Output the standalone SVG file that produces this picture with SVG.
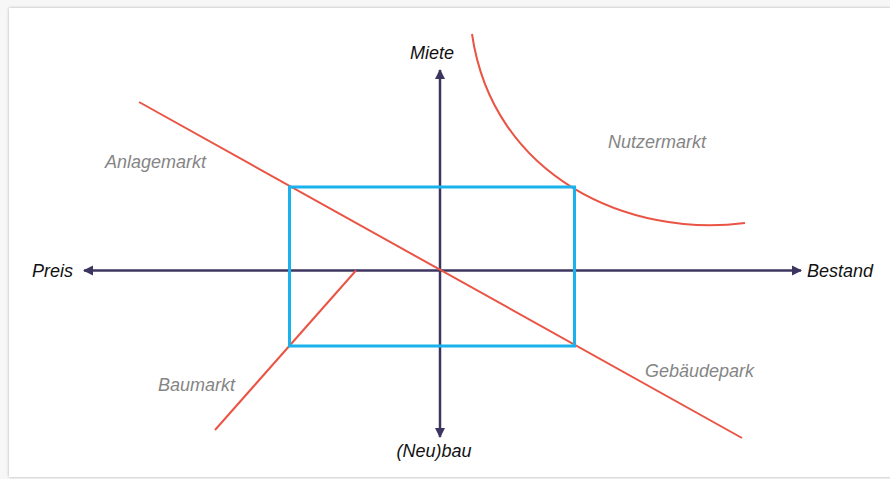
<svg xmlns="http://www.w3.org/2000/svg" width="890" height="479" viewBox="0 0 890 479">
  <defs>
    <filter id="shadow" x="-5%" y="-5%" width="110%" height="110%">
      <feGaussianBlur in="SourceAlpha" stdDeviation="1.5"/>
      <feOffset dx="0" dy="0" result="b"/>
      <feFlood flood-color="#000" flood-opacity="0.3"/>
      <feComposite in2="b" operator="in"/>
      <feMerge><feMergeNode/><feMergeNode in="SourceGraphic"/></feMerge>
    </filter>
    <marker id="arr" viewBox="0 0 10 10" refX="9" refY="5" markerWidth="4.2" markerHeight="4.2" orient="auto" markerUnits="strokeWidth">
      <path d="M0,0 L10,5 L0,10 Z" fill="#3d3560"/>
    </marker>
    <style>
      .axis { stroke: #3d3560; stroke-width: 2.5; fill: none; }
      .red { stroke: #ea5444; stroke-width: 2; fill: none; }
      .box { stroke: #19b2ec; stroke-width: 3; fill: none; }
      .lbl { font-family: "Liberation Sans", Arial, sans-serif; font-style: italic; font-size: 18px; fill: #111; }
      .mkt { font-family: "Liberation Sans", Arial, sans-serif; font-style: italic; font-size: 18px; fill: #858585; }
    </style>
  </defs>
  <rect x="0" y="0" width="890" height="479" fill="#f7f7f7"/>
  <rect x="9" y="8" width="895" height="469" fill="#ffffff" filter="url(#shadow)"/>

  <g id="connectors">
    <line class="axis" x1="440" y1="270.5" x2="84" y2="270.5" marker-end="url(#arr)"/>
    <line class="axis" x1="440" y1="270.5" x2="801" y2="270.5" marker-end="url(#arr)"/>
    <line class="axis" x1="440" y1="270.5" x2="440" y2="70" marker-end="url(#arr)"/>
    <line class="axis" x1="440" y1="270.5" x2="440" y2="437" marker-end="url(#arr)"/>
  </g>

  <g id="anlagemarkt-line">
    <line class="red" x1="139" y1="102" x2="742" y2="438"/>
  </g>
  <g id="baumarkt-line">
    <line class="red" x1="356" y1="270.5" x2="215" y2="430"/>
  </g>
  <g id="nutzermarkt-curve">
    <path class="red" d="M472,34 C493,178 630,238 745,223"/>
  </g>
  <g id="box">
    <rect class="box" x="289.5" y="187" width="285" height="159"/>
  </g>

  <g id="axis-labels">
    <text class="lbl" x="432" y="59" text-anchor="middle">Miete</text>
    <text class="lbl" x="32" y="277">Preis</text>
    <text class="lbl" x="807" y="277">Bestand</text>
    <text class="lbl" x="434" y="457" text-anchor="middle">(Neu)bau</text>
  </g>
  <g id="market-labels">
    <text class="mkt" x="105" y="168">Anlagemarkt</text>
    <text class="mkt" x="608" y="148">Nutzermarkt</text>
    <text class="mkt" x="645" y="377">Gebäudepark</text>
    <text class="mkt" x="158" y="391">Baumarkt</text>
  </g>
</svg>
